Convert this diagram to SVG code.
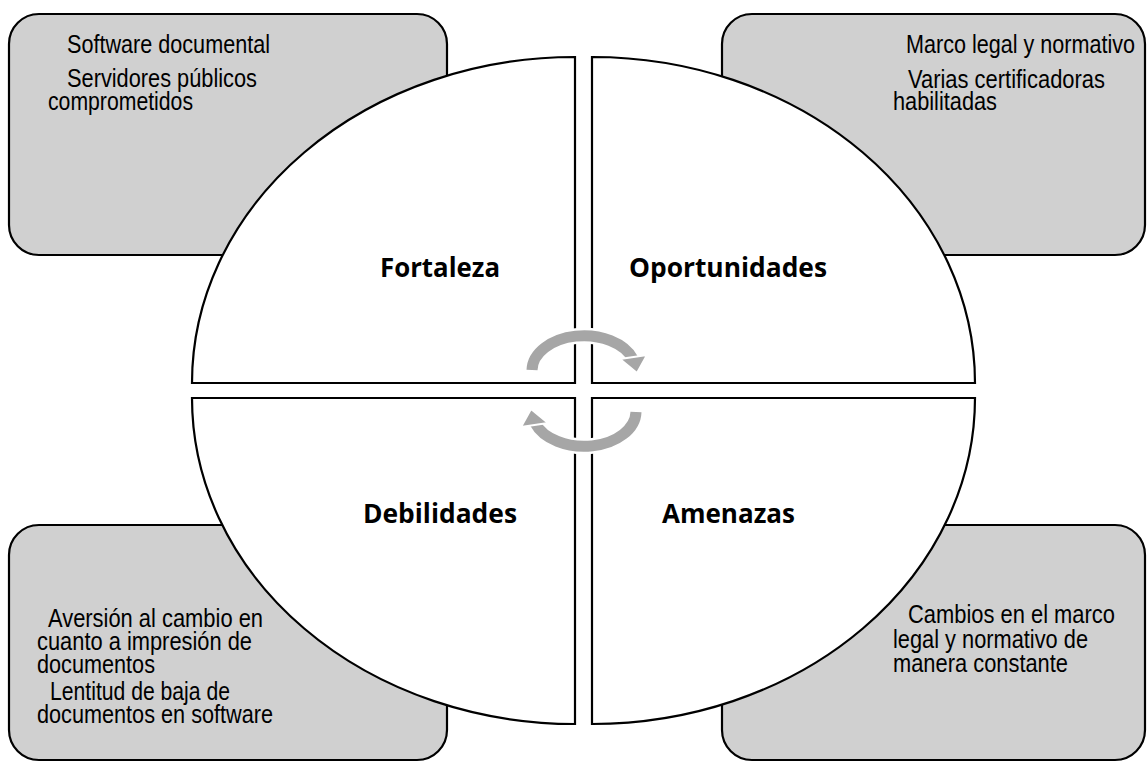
<svg xmlns="http://www.w3.org/2000/svg" width="1147" height="762" viewBox="0 0 1147 762">
<style>
.box{fill:#d0d0d0;stroke:#000;stroke-width:2.2}
.q{fill:#fff;stroke:#000;stroke-width:2.2}
.t{font-family:"Liberation Sans",Arial,sans-serif;font-size:25px;fill:#000}
.h{font-family:"Open Sans","Noto Sans",sans-serif;font-weight:bold;font-size:26px;fill:#000}
.arc{fill:none;stroke:#a6a6a6;stroke-width:11}
.halo{fill:none;stroke:#fff;stroke-width:16}
.head{fill:#a6a6a6;stroke:#fff;stroke-width:2}
</style>
<rect width="1147" height="762" fill="#fff"/>
<g id="box-tl">
<rect class="box" x="9" y="14" width="438" height="241" rx="30"/>
<text class="t" x="67" y="53" textLength="203" lengthAdjust="spacingAndGlyphs">Software documental</text>
<text class="t" x="67" y="87" textLength="190" lengthAdjust="spacingAndGlyphs">Servidores públicos</text>
<text class="t" x="48" y="110" textLength="145" lengthAdjust="spacingAndGlyphs">comprometidos</text>
</g>
<g id="box-tr">
<rect class="box" x="722" y="14" width="423" height="241" rx="30"/>
<text class="t" x="906" y="53" textLength="229" lengthAdjust="spacingAndGlyphs">Marco legal y normativo</text>
<text class="t" x="908" y="88" textLength="197" lengthAdjust="spacingAndGlyphs">Varias certificadoras</text>
<text class="t" x="893" y="110" textLength="104" lengthAdjust="spacingAndGlyphs">habilitadas</text>
</g>
<g id="box-bl">
<rect class="box" x="9" y="525" width="438" height="235" rx="30"/>
<text class="t" x="48" y="627" textLength="215" lengthAdjust="spacingAndGlyphs">Aversión al cambio en</text>
<text class="t" x="37" y="650" textLength="215" lengthAdjust="spacingAndGlyphs">cuanto a impresión de</text>
<text class="t" x="37" y="673" textLength="118" lengthAdjust="spacingAndGlyphs">documentos</text>
<text class="t" x="50" y="700" textLength="180" lengthAdjust="spacingAndGlyphs">Lentitud de baja de</text>
<text class="t" x="37" y="723" textLength="236" lengthAdjust="spacingAndGlyphs">documentos en software</text>
</g>
<g id="box-br">
<rect class="box" x="722" y="525" width="423" height="235" rx="30"/>
<text class="t" x="908" y="623" textLength="207" lengthAdjust="spacingAndGlyphs">Cambios en el marco</text>
<text class="t" x="893" y="648" textLength="195" lengthAdjust="spacingAndGlyphs">legal y normativo de</text>
<text class="t" x="893" y="672" textLength="175" lengthAdjust="spacingAndGlyphs">manera constante</text>
</g>
<g id="q-fortaleza">
<path class="q" d="M575 383 L192 383 A383 326 0 0 1 575 57 Z"/>
<text class="h" x="380" y="277" textLength="120" lengthAdjust="spacingAndGlyphs">Fortaleza</text>
</g>
<g id="q-oportunidades">
<path class="q" d="M592 383 L592 57 A383 326 0 0 1 975 383 Z"/>
<text class="h" x="629" y="277" textLength="198" lengthAdjust="spacingAndGlyphs">Oportunidades</text>
</g>
<g id="q-debilidades">
<path class="q" d="M575 398 L575 724 A383 326 0 0 1 192 398 Z"/>
<text class="h" x="363" y="523" textLength="154" lengthAdjust="spacingAndGlyphs">Debilidades</text>
</g>
<g id="q-amenazas">
<path class="q" d="M592 398 L975 398 A383 326 0 0 1 592 724 Z"/>
<text class="h" x="662" y="523" textLength="133" lengthAdjust="spacingAndGlyphs">Amenazas</text>
</g>
<g id="connectors">
<g id="arrow-top">
<path class="halo" d="M532 370 A52 35 0 0 1 633 359"/>
<path class="arc" d="M532 370 A52 35 0 0 1 633 359"/>
<polygon class="head" points="620,359 647,355 637,373"/>
</g>
<g id="arrow-bottom" transform="rotate(180 584 391)">
<path class="halo" d="M532 370 A52 35 0 0 1 633 359"/>
<path class="arc" d="M532 370 A52 35 0 0 1 633 359"/>
<polygon class="head" points="620,359 647,355 637,373"/>
</g>
</g>
</svg>
